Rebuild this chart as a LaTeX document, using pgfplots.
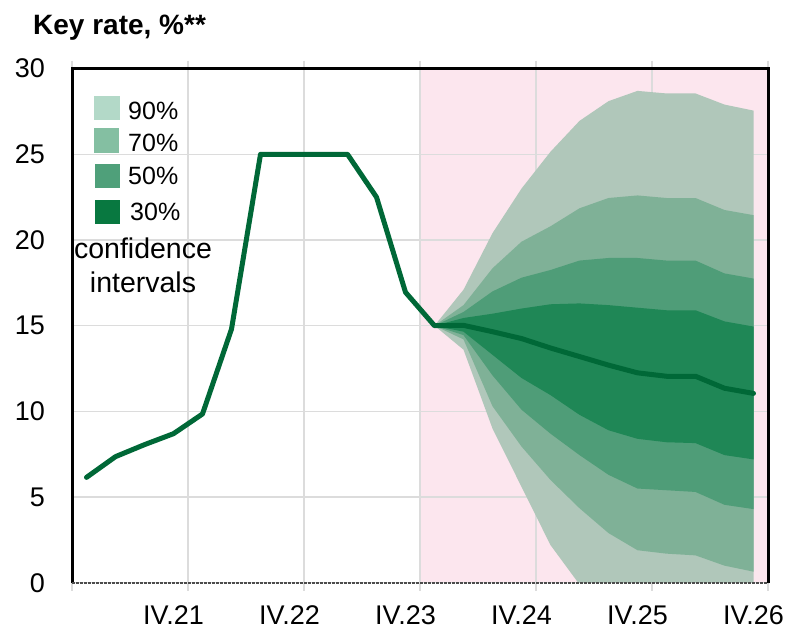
\documentclass[border=0pt]{standalone}
\usepackage{fontspec}
\setmainfont{Liberation Sans}
\usepackage{pgfplots}
\pgfplotsset{compat=1.18}
\usepgfplotslibrary{fillbetween}
\definecolor{lineG}{HTML}{006837}
\definecolor{f90}{HTML}{B0C7BA}
\definecolor{f70}{HTML}{7FB197}
\definecolor{f50}{HTML}{4F9D78}
\definecolor{f30}{HTML}{1F8756}
\definecolor{l90}{HTML}{B3D9C8}
\definecolor{l70}{HTML}{84BFA2}
\definecolor{l50}{HTML}{4FA07A}
\definecolor{l30}{HTML}{087840}
\definecolor{pinkbg}{HTML}{FCE6EE}
\definecolor{gridc}{HTML}{DCDCDC}
\begin{document}
\begin{tikzpicture}
\begin{axis}[
 at={(72bp,46.2bp)}, anchor=south west, scale only axis,
 width=696bp, height=514.2bp,
 xmin=0, xmax=24, ymin=0, ymax=30,
 set layers, clip mode=individual,
 xtick={0,4,...,24}, xticklabels={,IV.21,IV.22,IV.23,IV.24,IV.25,IV.26},
 ytick={0,5,...,30},
 grid=major, major grid style={gridc, line width=1.2bp},
 axis line style={draw=none},
 tick align=outside, major tick length=8bp,
 xtick style={gridc, line width=1.2bp},
 ytick style={draw=none},
 tick label style={font=\fontsize{27bp}{32bp}\selectfont},
 /pgf/number format/assume math mode=true,
 yticklabel style={anchor=east, inner sep=0pt, xshift=-19bp},
 xticklabel style={anchor=north, inner sep=0pt, yshift=-15bp, xshift=-14.5bp},
]
\addplot[fill=pinkbg, draw=none, on layer=axis background] coordinates {(12,30) (24,30)} \closedcycle;

\addplot[name path=u90, draw=none] coordinates {(12.5,15) (13.5,17.1) (14.5,20.4) (15.5,23.0) (16.5,25.15) (17.5,26.95) (18.5,28.1) (19.5,28.7) (20.5,28.55) (21.5,28.55) (22.5,27.9) (23.5,27.55)};
\addplot[name path=l90, draw=none] coordinates {(12.5,15) (13.5,13.6) (14.5,9.0) (15.5,5.6) (16.5,2.2) (17.5,-0.1) (18.5,-2.0) (19.5,-3.2) (20.5,-3.4) (21.5,-3.4) (22.5,-4.0) (23.5,-4.3)};
\addplot[f90] fill between[of=u90 and l90];

\addplot[name path=u70, draw=none] coordinates {(12.5,15) (13.5,16.2) (14.5,18.35) (15.5,19.9) (16.5,20.8) (17.5,21.85) (18.5,22.45) (19.5,22.6) (20.5,22.45) (21.5,22.45) (22.5,21.75) (23.5,21.45)};
\addplot[name path=l70, draw=none] coordinates {(12.5,15) (13.5,14.2) (14.5,10.3) (15.5,7.95) (16.5,6.0) (17.5,4.35) (18.5,2.9) (19.5,1.9) (20.5,1.7) (21.5,1.6) (22.5,1.0) (23.5,0.65)};
\addplot[f70] fill between[of=u70 and l70];

\addplot[name path=u50, draw=none] coordinates {(12.5,15) (13.5,15.8) (14.5,17.0) (15.5,17.8) (16.5,18.25) (17.5,18.8) (18.5,18.95) (19.5,18.95) (20.5,18.8) (21.5,18.8) (22.5,18.05) (23.5,17.75)};
\addplot[name path=l50, draw=none] coordinates {(12.5,15) (13.5,14.45) (14.5,12.1) (15.5,10.1) (16.5,8.7) (17.5,7.45) (18.5,6.3) (19.5,5.5) (20.5,5.4) (21.5,5.3) (22.5,4.55) (23.5,4.3)};
\addplot[f50] fill between[of=u50 and l50];

\addplot[name path=u30, draw=none] coordinates {(12.5,15) (13.5,15.45) (14.5,15.7) (15.5,16.0) (16.5,16.25) (17.5,16.3) (18.5,16.2) (19.5,16.05) (20.5,15.9) (21.5,15.9) (22.5,15.25) (23.5,14.95)};
\addplot[name path=l30, draw=none] coordinates {(12.5,15) (13.5,14.65) (14.5,13.3) (15.5,11.95) (16.5,10.95) (17.5,9.8) (18.5,8.9) (19.5,8.4) (20.5,8.2) (21.5,8.15) (22.5,7.45) (23.5,7.2)};
\addplot[f30] fill between[of=u30 and l30];

\addplot[lineG, line width=5bp, line join=round, line cap=round] coordinates {
(0.5,6.15) (1.5,7.36) (2.5,8.06) (3.5,8.7) (4.5,9.85) (5.5,14.8) (6.5,25) (7.5,25) (8.5,25) (9.5,25) (10.5,22.5) (11.5,16.95)
(12.5,15) (13.5,15.02) (14.5,14.65) (15.5,14.25) (16.5,13.7) (17.5,13.2) (18.5,12.7) (19.5,12.25) (20.5,12.05) (21.5,12.05) (22.5,11.35) (23.5,11.05)};

\draw[black, line width=3bp] (rel axis cs:0,0) -- (rel axis cs:0,1) -- (rel axis cs:1,1) -- (rel axis cs:1,0);
\draw[black!70, line width=2bp, dash pattern=on 3bp off 1bp] (rel axis cs:0,0) -- (rel axis cs:1,0);
\end{axis}
\node[anchor=base west, inner sep=0pt, font=\bfseries\fontsize{28bp}{32bp}\selectfont] at (33bp,594bp) {Key rate, \%**};
\fill[l90] (94bp,509bp) rectangle (120bp,533bp);
\fill[l70] (94bp,476.3bp) rectangle (119bp,500.7bp);
\fill[l50] (95bp,440.7bp) rectangle (120bp,465bp);
\fill[l30] (95bp,405bp) rectangle (120bp,429bp);
\begin{scope}[every node/.style={anchor=base west, inner sep=0pt, font=\fontsize{25bp}{30bp}\selectfont}]
\node at (128bp,509bp) {90\%};
\node at (128bp,477.3bp) {70\%};
\node at (128bp,444bp) {50\%};
\node at (130bp,408bp) {30\%};
\end{scope}
\node[anchor=base, inner sep=0pt, font=\fontsize{28.5bp}{32bp}\selectfont] at (143bp,370.7bp) {confidence};
\node[anchor=base, inner sep=0pt, font=\fontsize{28.5bp}{32bp}\selectfont] at (143bp,336bp) {intervals};
\pgfresetboundingbox
\useasboundingbox (0bp,0bp) rectangle (790bp,629bp);
\end{tikzpicture}
\end{document}
